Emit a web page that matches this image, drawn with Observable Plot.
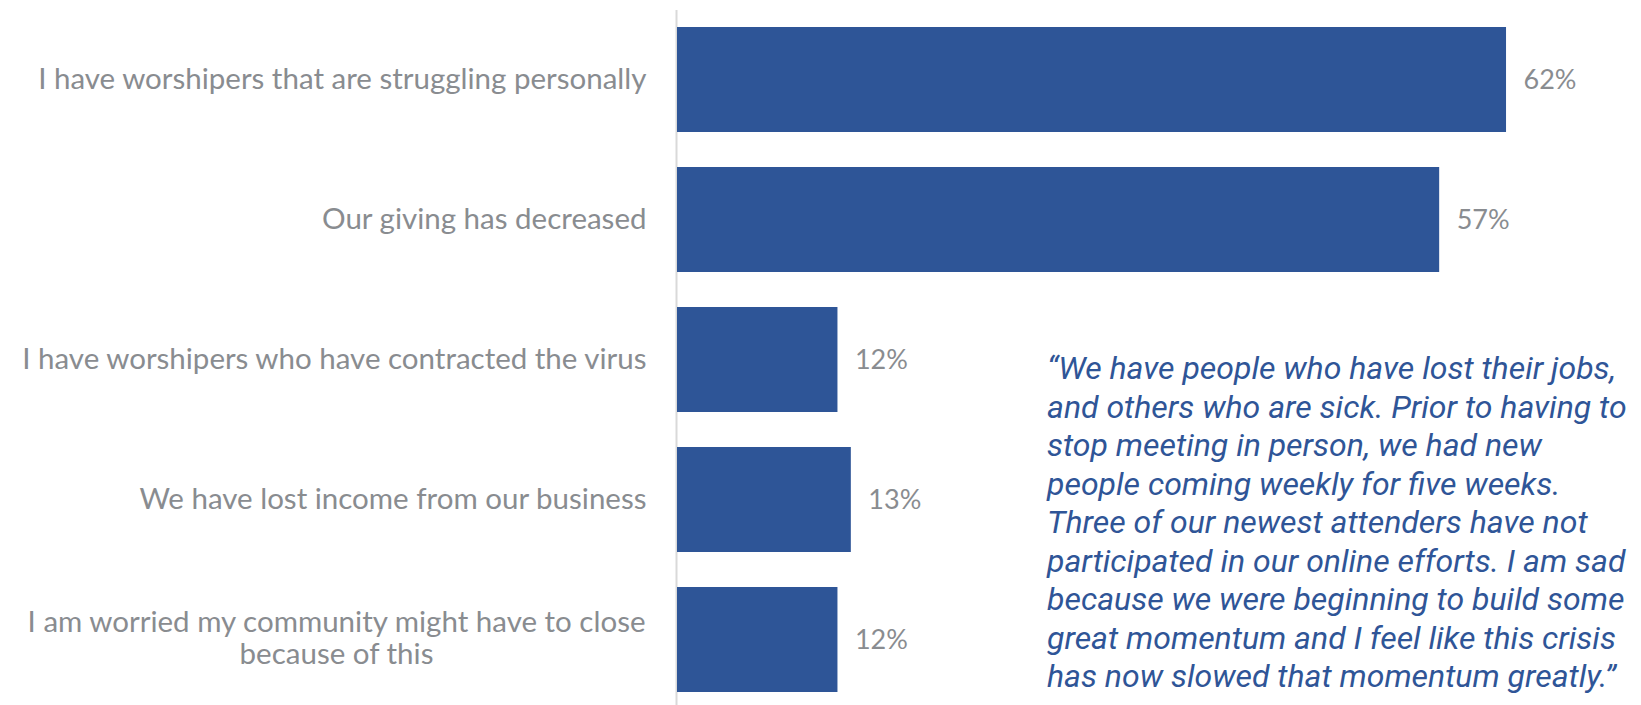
<!DOCTYPE html>
<html>
<head>
<meta charset="utf-8">
<script src="https://cdn.jsdelivr.net/npm/d3@7"></script>
<script src="https://cdn.jsdelivr.net/npm/@observablehq/plot@0.6"></script>
<style>
  html, body { margin: 0; padding: 0; background: #ffffff; }
  #wrap { position: relative; width: 1641px; height: 705px; overflow: hidden; }
  #quote {
    position: absolute; left: 1047px; top: 349px;
    font-family: Roboto, sans-serif; font-style: italic;
    font-size: 32px; line-height: 38.5px; color: #2F5597;
    white-space: nowrap; letter-spacing: 0px;
  }
</style>
</head>
<body>
<div id="wrap"></div>
<script>
const categories = [
  "I have worshipers that are struggling personally",
  "Our giving has decreased",
  "I have worshipers who have contracted the virus",
  "We have lost income from our business",
  "I am worried my community might have to close\nbecause of this"
];
const values = [62, 57, 12, 13, 12];
const quoteLines = [
  "\u201CWe have people who have lost their jobs,",
  "and others who are sick. Prior to having to",
  "stop meeting in person, we had new",
  "people coming weekly for five weeks.",
  "Three of our newest attenders have not",
  "participated in our online efforts. I am sad",
  "because we were beginning to build some",
  "great momentum and I feel like this crisis",
  "has now slowed that momentum greatly.\u201D"
];

const data = categories.map((c, i) => ({category: c, value: values[i]}));
const single = data.filter(d => !d.category.includes("\n"));
const multi = data.filter(d => d.category.includes("\n"));

const labelFont = "Lato, sans-serif";
const labelSize = 29.5;
const gray = "#898C90";
const blue = "#2E5597";
const gap = 31;

// measure first line of multi-line labels to center the second line under it
const ctx = document.createElement("canvas").getContext("2d");
ctx.font = `${labelSize}px Lato`;
const firstLineWidth = multi.length ? ctx.measureText(multi[0].category.split("\n")[0]).width : 0;

const chart = Plot.plot({
  width: 1641,
  height: 705,
  marginLeft: 677,
  marginRight: 28,
  marginTop: 27,
  marginBottom: 13,
  style: {fontFamily: labelFont, background: "#ffffff"},
  x: {domain: [0, 70], axis: null},
  y: {domain: categories, paddingInner: 0.25, paddingOuter: 0, axis: null},
  marks: [
    Plot.ruleX([0], {stroke: "#D9D9D9", strokeWidth: 2, dx: -1, insetTop: -17, insetBottom: -13}),
    Plot.barX(data, {x: "value", y: "category", fill: blue}),
    Plot.text(data, {
      x: "value", y: "category", text: d => `${d.value}%`,
      textAnchor: "start", dx: 17, fill: gray, fontSize: 27
    }),
    Plot.text(single, {
      x: () => 0, y: "category", text: "category",
      textAnchor: "end", dx: -gap, fill: gray, fontSize: labelSize
    }),
    Plot.text(multi, {
      x: () => 0, y: "category", text: "category",
      textAnchor: "middle", dx: -gap - firstLineWidth / 2, dy: -2, lineHeight: 1.09,
      fill: gray, fontSize: labelSize
    })
  ]
});

const wrap = document.getElementById("wrap");
wrap.appendChild(chart);
const q = document.createElement("div");
q.id = "quote";
q.innerHTML = quoteLines.map(l => l.replace(/&/g, "&amp;").replace(/</g, "&lt;")).join("<br>");
wrap.appendChild(q);
</script>
</body>
</html>
